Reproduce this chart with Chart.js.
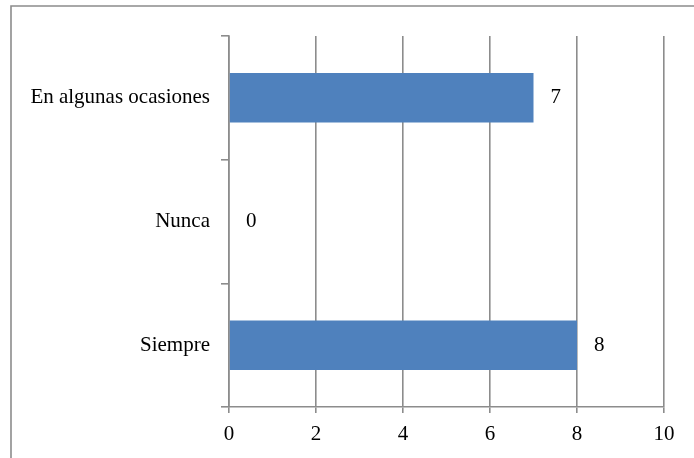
<!DOCTYPE html>
<html>
<head>
<meta charset="utf-8">
<script src="https://cdn.jsdelivr.net/npm/chart.js@4/dist/chart.umd.min.js"></script>
<style>
html,body{margin:0;padding:0;background:#fff;}
#wrap{position:relative;width:694px;height:458px;}
</style>
</head>
<body>
<div id="wrap"><canvas id="c" width="694" height="458"></canvas></div>
<script>
const categories = ["En algunas ocasiones", "Nunca", "Siempre"];
const values = [7, 0, 8];
const xTicks = [0, 2, 4, 6, 8, 10];

const FONT = "'Liberation Serif', 'Times New Roman', serif";
const GRID = "#8c8c8c";

const frame = {
  id: 'frame',
  beforeDraw(chart) {
    const ctx = chart.ctx;
    ctx.save();
    ctx.strokeStyle = "#8c8c8c";
    ctx.lineWidth = 1.6;
    ctx.beginPath();
    ctx.moveTo(700, 6);
    ctx.lineTo(11, 6);
    ctx.lineTo(11, 470);
    ctx.stroke();
    ctx.restore();
  }
};

const valueLabels = {
  id: 'valueLabels',
  afterDatasetsDraw(chart) {
    const ctx = chart.ctx;
    const meta = chart.getDatasetMeta(0);
    ctx.save();
    ctx.font = "21px " + FONT;
    ctx.fillStyle = "#000";
    ctx.textAlign = "left";
    ctx.textBaseline = "middle";
    meta.data.forEach((bar, i) => {
      ctx.fillText(String(values[i]), bar.x + 17, bar.y);
    });
    ctx.restore();
  }
};

new Chart(document.getElementById('c'), {
  type: 'bar',
  data: {
    labels: categories,
    datasets: [{
      data: values,
      backgroundColor: "#4f81bd",
      borderWidth: 0,
      categoryPercentage: 1,
      barPercentage: 0.4
    }]
  },
  options: {
    indexAxis: 'y',
    responsive: false,
    animation: false,
    devicePixelRatio: 1,
    layout: { padding: { left: 0, right: 30, top: 36, bottom: 0 } },
    plugins: { legend: { display: false }, tooltip: { enabled: false } },
    scales: {
      x: {
        min: 0, max: 10,
        afterBuildTicks(scale) { scale.ticks = xTicks.map(v => ({ value: v })); },
        afterFit(scale) { scale.height = 51; },
        grid: { color: GRID, lineWidth: 1.6, tickLength: 6, drawTicks: true },
        border: { display: true, color: GRID, width: 1.6 },
        ticks: { color: "#000", font: { family: FONT, size: 21 }, padding: 9, maxRotation: 0 }
      },
      y: {
        afterFit(scale) { scale.width = 229; },
        grid: { color: GRID, lineWidth: 1.6, drawOnChartArea: false, drawTicks: true, tickLength: 8, offset: true },
        border: { display: true, color: GRID, width: 1.6 },
        ticks: { color: "#000", font: { family: FONT, size: 21 }, padding: 11 }
      }
    }
  },
  plugins: [frame, valueLabels]
});
</script>
</body>
</html>
